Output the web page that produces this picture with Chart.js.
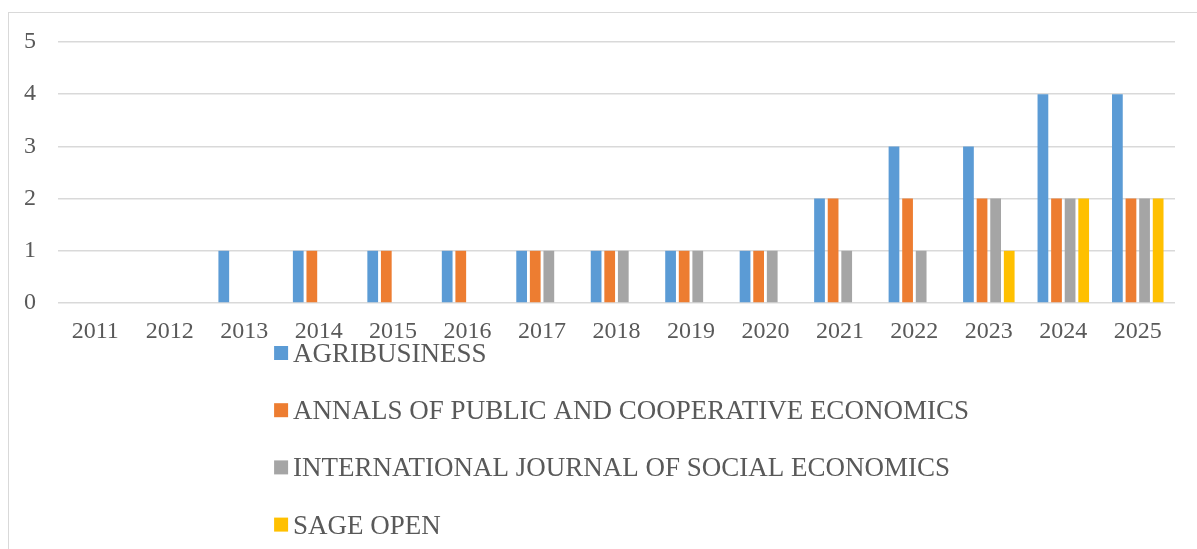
<!DOCTYPE html>
<html>
<head>
<meta charset="utf-8">
<script src="https://cdn.jsdelivr.net/npm/chart.js@4"></script>
<style>
  html, body { margin: 0; padding: 0; background: #fff; }
  #wrap { position: relative; width: 1197px; height: 549px; overflow: hidden; }
  #frame { position: absolute; left: 8px; top: 12px; width: 1300px; height: 700px;
           border-top: 1.5px solid #d9d9d9; border-left: 1.5px solid #d9d9d9; }
  canvas { position: absolute; left: 0; top: 0; }
</style>
</head>
<body>
<div id="wrap">
  <div id="frame"></div>
  <canvas id="c" width="1197" height="549"></canvas>
</div>
<script>
const years = ["2011","2012","2013","2014","2015","2016","2017","2018","2019","2020","2021","2022","2023","2024","2025"];
const seriesNames = ["AGRIBUSINESS","ANNALS OF PUBLIC AND COOPERATIVE ECONOMICS","INTERNATIONAL JOURNAL OF SOCIAL ECONOMICS","SAGE OPEN"];
const agribusiness = [0,0,1,1,1,1,1,1,1,1,2,3,3,4,4];
const annals       = [0,0,0,1,1,1,1,1,1,1,2,2,2,2,2];
const ijse         = [0,0,0,0,0,0,1,1,1,1,1,1,2,2,2];
const sageOpen     = [0,0,0,0,0,0,0,0,0,0,0,0,1,2,2];
const yTicks = [0,1,2,3,4,5];

const colors = ["#5B9BD5","#ED7D31","#A5A5A5","#FFC000"];
const values = [agribusiness, annals, ijse, sageOpen];
const FONT = "'Liberation Serif', 'Times New Roman', serif";
const TEXT = "#595959";

const legendPlugin = {
  id: 'vertLegend',
  afterDraw(chart) {
    const ctx = chart.ctx;
    ctx.save();
    ctx.font = "27px " + FONT;
    const box = 14, gap = 5;
    let maxW = 0;
    chart.data.datasets.forEach(ds => { maxW = Math.max(maxW, ctx.measureText(ds.label).width); });
    const blockW = box + gap + maxW;
    const ca = chart.chartArea;
    const left = (ca.left + ca.right) / 2 - blockW / 2 + 5;
    const firstBase = ca.bottom + 59;
    const step = 57.2;
    chart.data.datasets.forEach((ds, i) => {
      const base = firstBase + i * step;
      ctx.fillStyle = ds.backgroundColor;
      ctx.fillRect(left, base - 16, box, box);
      ctx.fillStyle = TEXT;
      ctx.textBaseline = 'alphabetic';
      ctx.textAlign = 'left';
      ctx.fillText(ds.label, left + box + gap, base);
    });
    ctx.restore();
  }
};

new Chart(document.getElementById('c'), {
  type: 'bar',
  data: {
    labels: years,
    datasets: seriesNames.map((n, i) => ({
      label: n,
      data: values[i],
      backgroundColor: colors[i],
      borderWidth: 0,
      categoryPercentage: 0.73,
      barPercentage: 0.79
    }))
  },
  options: {
    responsive: false,
    animation: false,
    devicePixelRatio: 1,
    layout: { padding: { left: 0, right: 22, top: 42, bottom: 206 } },
    plugins: { legend: { display: false }, tooltip: { enabled: false } },
    scales: {
      x: {
        grid: { display: false, drawTicks: false },
        border: { display: false },
        ticks: { color: TEXT, font: { family: FONT, size: 24 }, padding: 14, maxRotation: 0, autoSkip: false },
        afterFit(s) { s.height = 40; }
      },
      y: {
        min: 0, max: 5,
        afterBuildTicks(s) { s.ticks = yTicks.map(v => ({ value: v })); },
        grid: { color: "#d9d9d9", lineWidth: 1.5, drawTicks: false },
        border: { display: false },
        ticks: { color: TEXT, font: { family: FONT, size: 24 }, padding: 22 },
        afterFit(s) { s.width = 58; }
      }
    }
  },
  plugins: [legendPlugin]
});
</script>
</body>
</html>
